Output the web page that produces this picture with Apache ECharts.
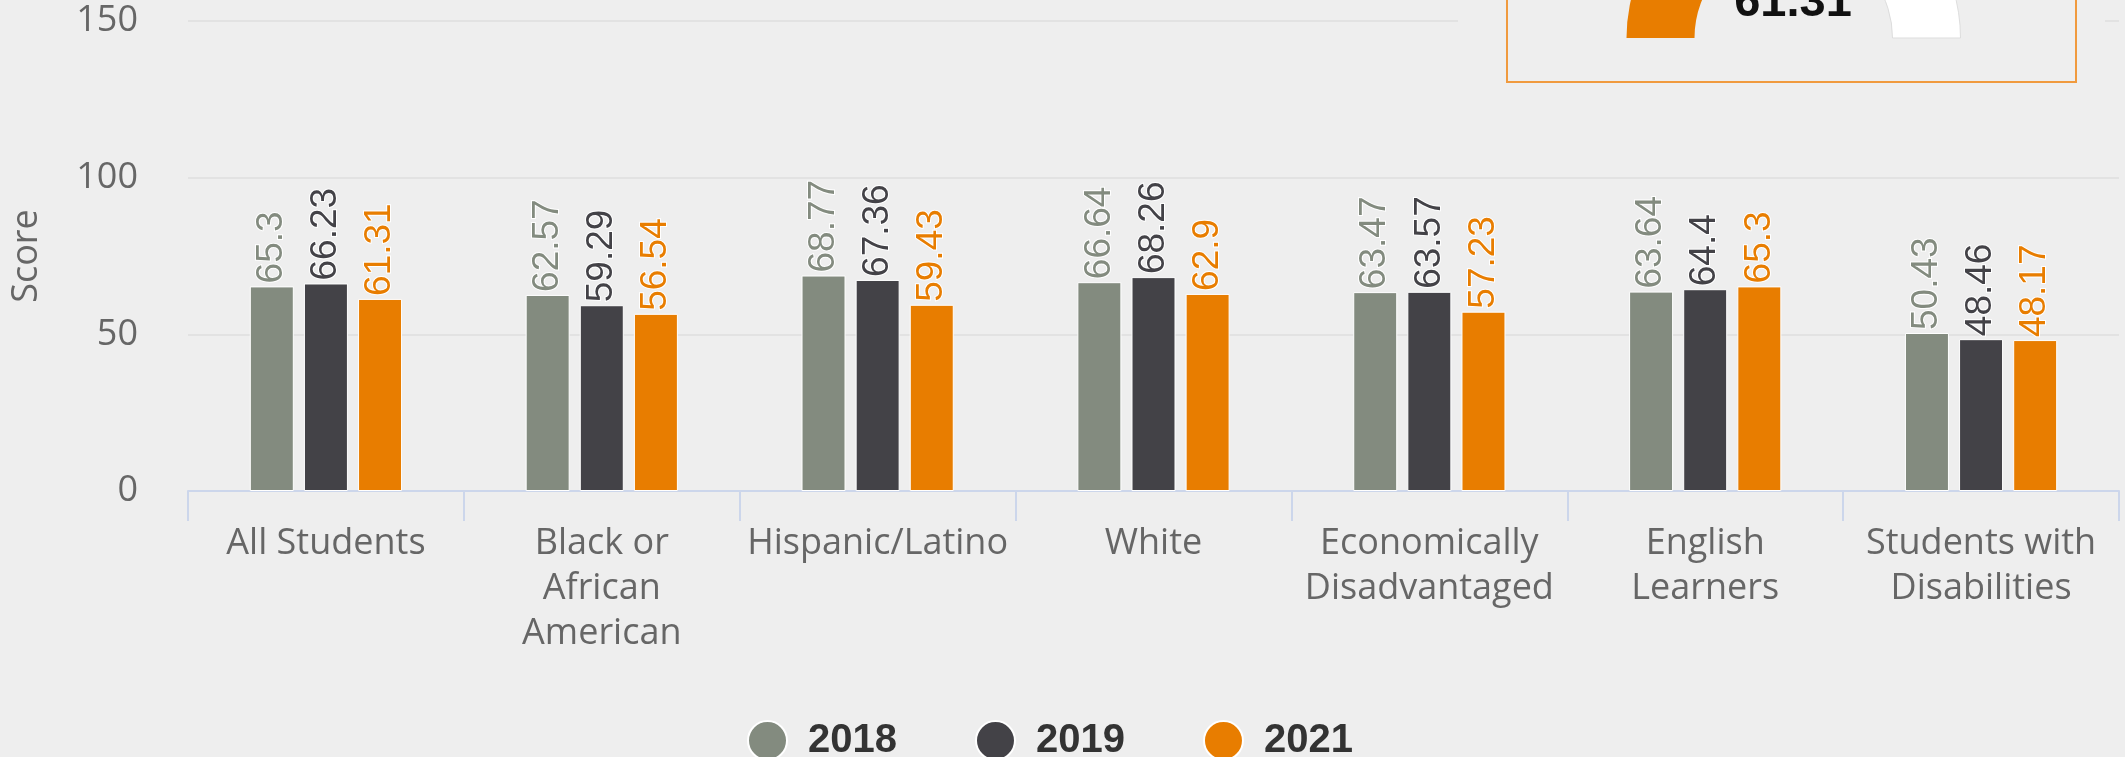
<!DOCTYPE html>
<html>
<head>
<meta charset="utf-8">
<script src="https://cdn.jsdelivr.net/npm/echarts@6/dist/echarts.min.js"></script>
<style>
  html, body { margin: 0; padding: 0; background: #eeeeee; }
  #chart { width: 2125px; height: 757px; }
</style>
</head>
<body>
<div id="chart"></div>
<script>
const categories = ['All Students', 'Black or\nAfrican\nAmerican', 'Hispanic/Latino', 'White',
  'Economically\nDisadvantaged', 'English\nLearners', 'Students with\nDisabilities'];
const years = ['2018', '2019', '2021'];
const scores2018 = [65.3, 62.57, 68.77, 66.64, 63.47, 63.64, 50.43];
const scores2019 = [66.23, 59.29, 67.36, 68.26, 63.57, 64.4, 48.46];
const scores2021 = [61.31, 56.54, 59.43, 62.9, 57.23, 65.3, 48.17];
const yMin = 0, yMax = 150, yStep = 50;

const colors = ['#838b7f', '#434247', '#e87d00'];
const labelFont = 'Open Sans';

// headline gauge shows the all-students 2021 score
const gaugeValue = scores2021[0];

const chart = echarts.init(document.getElementById('chart'));

const barSeries = [scores2018, scores2019, scores2021].map((vals, i) => ({
  name: years[i],
  type: 'bar',
  data: vals,
  barWidth: 44,
  barGap: '23%',
  itemStyle: { color: colors[i], borderColor: '#ffffff', borderWidth: 1 },
  label: {
    show: true,
    position: 'top',
    rotate: 90,
    align: 'left',
    verticalAlign: 'middle',
    distance: 3,
    color: colors[i],
    fontFamily: 'Liberation Sans',
    fontSize: 37,
    textBorderColor: '#ffffff',
    textBorderWidth: 2
  }
}));

chart.setOption({
  backgroundColor: '#eeeeee',
  animation: false,
  color: colors,
  grid: { left: 188, right: 6, top: 21, bottom: 266 },
  legend: {
    data: years,
    left: 742,
    top: 715,
    icon: 'circle',
    itemWidth: 39,
    itemHeight: 39,
    itemGap: 78,
    textStyle: {
      fontFamily: 'Liberation Sans',
      fontSize: 40,
      fontWeight: 'bold',
      color: '#333333',
      padding: [0, 0, 0, 16]
    }
  },
  xAxis: {
    type: 'category',
    data: categories,
    axisLine: { lineStyle: { color: '#ccd6eb', width: 2 } },
    axisTick: { show: true, length: 30, lineStyle: { color: '#ccd6eb', width: 2 } },
    axisLabel: {
      color: '#666666',
      fontFamily: labelFont,
      fontSize: 36,
      lineHeight: 45,
      margin: 30,
      interval: 0
    }
  },
  yAxis: {
    type: 'value',
    min: yMin,
    max: yMax,
    interval: yStep,
    name: 'Score',
    nameLocation: 'middle',
    nameGap: 143,
    nameTextStyle: { color: '#666666', fontFamily: labelFont, fontSize: 36 },
    axisLabel: { color: '#666666', fontFamily: labelFont, fontSize: 36, margin: 50 },
    splitLine: { lineStyle: { color: '#e2e2e2', width: 2 } }
  },
  graphic: [
    { type: 'rect', z: 100, shape: { x: 1458, y: -10, width: 647, height: 100 },
      style: { fill: '#eeeeee' } },
    { type: 'rect', z: 101, shape: { x: 1507, y: -60, width: 569, height: 142 },
      style: { fill: 'none', stroke: '#f09a3e', lineWidth: 2 } },
    { type: 'text', z: 130, style: {
        text: String(gaugeValue), x: 1793, y: 3, align: 'center', verticalAlign: 'middle',
        font: 'bold 47px "Liberation Sans"', fill: '#111111' } }
  ],
  series: barSeries.concat([{
    type: 'pie',
    z: 110,
    silent: true,
    center: [1793.5, 38],
    radius: [99, 167],
    startAngle: 180,
    clockwise: true,
    label: { show: false },
    labelLine: { show: false },
    data: [
      { value: gaugeValue, itemStyle: { color: '#e87d00' } },
      { value: 100 - gaugeValue, itemStyle: { color: '#ffffff', borderColor: '#dddddd', borderWidth: 1 } },
      { value: 100, itemStyle: { color: 'rgba(0,0,0,0)' } }
    ]
  }])
});
</script>
</body>
</html>
